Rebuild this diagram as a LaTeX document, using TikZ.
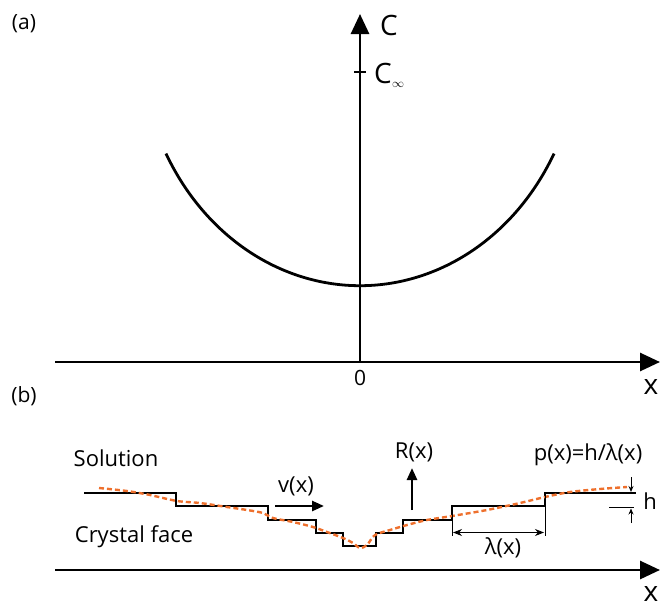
\documentclass[tikz,border=0pt]{standalone}
\usepackage{fontspec}
\setmainfont{Open Sans}
\usetikzlibrary{arrows.meta}
\definecolor{dorange}{RGB}{238,112,45}
\begin{document}
\begin{tikzpicture}[x=1pt,y=-1pt,
  bigaxis/.style={line width=2.8pt,-{Triangle[length=20pt,width=18pt]}},
  heavy/.style={line width=2.8pt},
  midarrow/.style={line width=2.6pt,-{Triangle[length=12pt,width=10pt]}},
  thinline/.style={line width=1pt},
  dimarrow/.style={line width=1pt,{Stealth[length=9pt,width=7pt]}-{Stealth[length=9pt,width=7pt]}},
  smallarrow/.style={line width=1pt,-{Stealth[length=6pt,width=5pt]}},
  dashorange/.style={line width=2.4pt,dorange,dash pattern=on 5pt off 3pt},
  lbl/.style={inner sep=0pt,font=\fontsize{22}{26}\selectfont},
  biglbl/.style={inner sep=0pt,font=\fontsize{28}{32}\selectfont},
  panel/.style={inner sep=0pt,font=\fontsize{21}{24}\selectfont}]
\useasboundingbox (0,0) rectangle (661,608);

% ---------- panel (a)
\node[panel] (pa) at (24,24) {(a)};
\coordinate (ha0) at (55,362);
\coordinate (ha1) at (660,362);
\coordinate (va0) at (360,362);
\coordinate (va1) at (360,14);
\draw[bigaxis] (ha0) -- (ha1);
\draw[bigaxis] (va0) -- (va1);
\coordinate (t0) at (354,71.5);
\coordinate (t1) at (366,71.5);
\draw[line width=2pt] (t0) -- (t1);
\node[biglbl] (cl) at (389,25) {C};
\node[biglbl] (cinf) at (383,73) {C};
\node[inner sep=0pt,font=\fontsize{13}{14}\selectfont] (infs) at (398,85) {$\infty$};
\node[panel] (zero) at (360,378) {0};
\node[biglbl] (xa) at (651,387) {x};
\draw[heavy] plot[domain=-194:194,samples=120,smooth] ({360+\x},{35.7+250*sqrt(1-(\x/220)^2)});

% ---------- panel (b)
\node[panel] (pb) at (24,396) {(b)};
\coordinate (hb0) at (55,570);
\coordinate (hb1) at (660,570);
\draw[bigaxis] (hb0) -- (hb1);
\node[biglbl] (xb) at (651,594) {x};

\draw[heavy] (84,493) -- (176,493) -- (176,506) -- (268,506) -- (268,520) -- (316,520)
  -- (316,533) -- (343,533) -- (343,546) -- (376,546) -- (376,533) -- (403,533)
  -- (403,520) -- (452,520) -- (452,506) -- (545,506) -- (545,493) -- (636,493);

\draw[dashorange] plot[smooth,tension=0.5] coordinates {
 (99,488) (127,491) (150,495) (177,501) (200,503) (227,507) (247,510) (263,513)
 (273,518) (293,522) (313,527) (327,532) (343,538) (353,543) (360,548) (367,545)
 (375,535) (390,530) (407,525) (427,520) (452,516) (487,510) (520,503) (545,497)
 (570,492) (600,489) (627,487)};

\node[lbl] (sol) at (116,458) {Solution};
\node[lbl] (cry) at (134,537) {Crystal face};

\node[lbl] (vx) at (296,486) {v(x)};
\coordinate (v0) at (275,506);
\coordinate (v1) at (324,506);
\draw[midarrow] (v0) -- (v1);

\node[lbl] (rx) at (414,452) {R(x)};
\coordinate (r0) at (412,510);
\coordinate (r1) at (412,468);
\draw[midarrow] (r0) -- (r1);

% lambda dimension
\coordinate (l0) at (452,506);
\coordinate (l0b) at (452,536);
\coordinate (l1) at (545,493);
\coordinate (l1b) at (545,536);
\draw[thinline] (l0) -- (l0b);
\draw[thinline] (l1) -- (l1b);
\coordinate (la) at (453,532.5);
\coordinate (lb) at (544,532.5);
\draw[dimarrow] (la) -- (lb);
\node[lbl] (lam) at (503,548) {λ(x)};

\node[lbl] (px) at (588,455) {p(x)=h/λ(x)};

% h dimension
\coordinate (h0) at (631,477);
\coordinate (h1) at (631,492);
\draw[smallarrow] (h0) -- (h1);
\coordinate (h2) at (609,507.5);
\coordinate (h3) at (634,507.5);
\draw[thinline] (h2) -- (h3);
\coordinate (h4) at (631,523);
\coordinate (h5) at (631,508.5);
\draw[smallarrow] (h4) -- (h5);
\node[lbl] (hl) at (650,501) {h};
\end{tikzpicture}
\end{document}
